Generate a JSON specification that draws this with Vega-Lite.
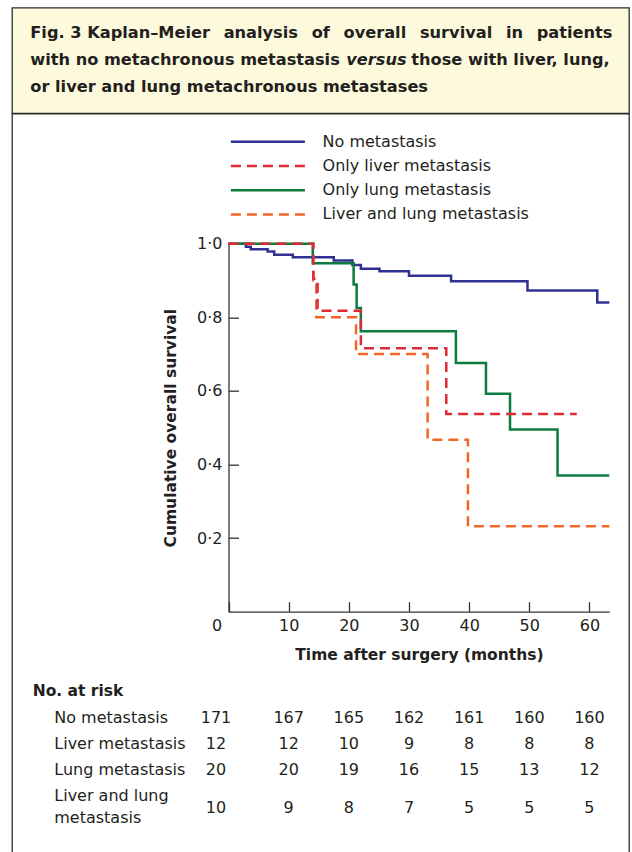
{
  "$schema": "https://vega.github.io/schema/vega-lite/v6.json",
  "background": "white",
  "padding": {"left": 11, "top": 6.7, "right": 4, "bottom": 0},
  "spacing": 0,
  "bounds": "flush",
  "config": {
    "view": {"stroke": null},
    "font": "DejaVu Sans",
    "text": {"font": "DejaVu Sans", "fontSize": 16, "color": "#231f20"},
    "axis": {
      "grid": false,
      "domainColor": "#333333",
      "domainWidth": 1.3,
      "tickColor": "#333333",
      "tickWidth": 1.3,
      "labelFont": "DejaVu Sans",
      "labelFontSize": 16,
      "labelColor": "#231f20",
      "titleFont": "DejaVu Sans",
      "titleFontSize": 15.5,
      "titleFontWeight": "bold",
      "titleColor": "#231f20"
    }
  },
  "vconcat": [
    {
      "width": 617,
      "height": 105.6,
      "view": {"fill": "#fdf9dc", "stroke": "#2b2b2b", "strokeWidth": 1.3},
      "data": {
        "values": [
          {"line": 1, "part": 1, "text": "Fig. 3 Kaplan–Meier \u2002analysis \u2002of \u2002overall \u2002survival \u2002in \u2002patients"},
          {"line": 2, "part": 1, "text": "with no metachronous metastasis"},
          {"line": 2, "part": 2, "text": "versus"},
          {"line": 2, "part": 3, "text": "those with liver, lung,"},
          {"line": 3, "part": 1, "text": "or liver and lung metachronous metastases"}
        ]
      },
      "encoding": {
        "y": {"field": "line", "type": "ordinal", "scale": {"type": "point", "range": [25.5, 79.5], "padding": 0}, "axis": null}
      },
      "layer": [
        {
          "transform": [{"filter": "datum.part === 1"}],
          "mark": {"type": "text", "align": "left", "baseline": "middle", "fontWeight": "bold", "fontSize": 16.2},
          "encoding": {"x": {"value": 18.3}, "text": {"field": "text"}}
        },
        {
          "transform": [{"filter": "datum.part === 2"}],
          "mark": {"type": "text", "align": "left", "baseline": "middle", "fontWeight": "bold", "fontStyle": "italic", "fontSize": 16.2, "dx": 316},
          "encoding": {"x": {"value": 18.3}, "text": {"field": "text"}}
        },
        {
          "transform": [{"filter": "datum.part === 3"}],
          "mark": {"type": "text", "align": "left", "baseline": "middle", "fontWeight": "bold", "fontSize": 16.2, "dx": 381},
          "encoding": {"x": {"value": 18.3}, "text": {"field": "text"}}
        }
      ]
    },
    {
      "width": 617,
      "height": 739.7,
      "view": {"fill": "white", "stroke": "#2b2b2b", "strokeWidth": 1.3},
      "resolve": {"scale": {"y": "independent"}},
      "layer": [
        {
          "data": {
            "values": [
              {"group": "No metastasis", "t": 0, "s": 1.0},
              {"group": "No metastasis", "t": 2.9, "s": 0.992},
              {"group": "No metastasis", "t": 3.7, "s": 0.985},
              {"group": "No metastasis", "t": 6.5, "s": 0.979},
              {"group": "No metastasis", "t": 7.6, "s": 0.970},
              {"group": "No metastasis", "t": 10.7, "s": 0.963},
              {"group": "No metastasis", "t": 17.5, "s": 0.954},
              {"group": "No metastasis", "t": 20.6, "s": 0.942},
              {"group": "No metastasis", "t": 22.0, "s": 0.932},
              {"group": "No metastasis", "t": 25.1, "s": 0.925},
              {"group": "No metastasis", "t": 30.0, "s": 0.913},
              {"group": "No metastasis", "t": 37.0, "s": 0.898},
              {"group": "No metastasis", "t": 49.7, "s": 0.873},
              {"group": "No metastasis", "t": 61.3, "s": 0.840},
              {"group": "No metastasis", "t": 63.3, "s": 0.840},
              {"group": "Liver and lung metastasis", "t": 0, "s": 1.0},
              {"group": "Liver and lung metastasis", "t": 14.1, "s": 0.9},
              {"group": "Liver and lung metastasis", "t": 14.6, "s": 0.8},
              {"group": "Liver and lung metastasis", "t": 21.2, "s": 0.7},
              {"group": "Liver and lung metastasis", "t": 33.1, "s": 0.467},
              {"group": "Liver and lung metastasis", "t": 39.8, "s": 0.232},
              {"group": "Liver and lung metastasis", "t": 63.3, "s": 0.232},
              {"group": "Only lung metastasis", "t": 0, "s": 1.0},
              {"group": "Only lung metastasis", "t": 14.0, "s": 0.947},
              {"group": "Only lung metastasis", "t": 20.8, "s": 0.889},
              {"group": "Only lung metastasis", "t": 21.3, "s": 0.825},
              {"group": "Only lung metastasis", "t": 22.0, "s": 0.762},
              {"group": "Only lung metastasis", "t": 37.8, "s": 0.676},
              {"group": "Only lung metastasis", "t": 42.8, "s": 0.592},
              {"group": "Only lung metastasis", "t": 46.8, "s": 0.495},
              {"group": "Only lung metastasis", "t": 54.7, "s": 0.370},
              {"group": "Only lung metastasis", "t": 63.3, "s": 0.370},
              {"group": "Only liver metastasis", "t": 0, "s": 1.0},
              {"group": "Only liver metastasis", "t": 14.1, "s": 0.905},
              {"group": "Only liver metastasis", "t": 14.8, "s": 0.818},
              {"group": "Only liver metastasis", "t": 22.0, "s": 0.716},
              {"group": "Only liver metastasis", "t": 36.2, "s": 0.537},
              {"group": "Only liver metastasis", "t": 57.9, "s": 0.537}
            ]
          },
          "mark": {"type": "line", "interpolate": "step-after", "strokeWidth": 2.5, "clip": false},
          "encoding": {
            "x": {
              "field": "t", "type": "quantitative",
              "scale": {"domain": [0, 63.3], "range": [216.5, 597.3], "nice": false, "zero": false},
              "axis": {
                "orient": "bottom", "offset": -241.7,
                "values": [0, 10, 20, 30, 40, 50, 60],
                "tickSize": -10, "labelPadding": 16, "labelFlush": false, "labelOverlap": false,
                "labelOffset": {"condition": {"test": "datum.value === 0", "value": -12}, "value": 0},
                "title": "Time after surgery (months)", "titlePadding": 14
              }
            },
            "y": {
              "field": "s", "type": "quantitative",
              "scale": {"domain": [0, 1], "range": [498, 130], "nice": false, "zero": false},
              "axis": {
                "orient": "left", "offset": -216.5,
                "values": [0.2, 0.4, 0.6, 0.8, 1.0],
                "tickSize": -10, "labelPadding": 16.5,
                "labelExpr": "replace(format(datum.value, '.1f'), '.', '·')",
                "title": "Cumulative overall survival", "titlePadding": 18.5
              }
            },
            "color": {
              "field": "group", "type": "nominal",
              "scale": {
                "domain": ["No metastasis", "Only liver metastasis", "Only lung metastasis", "Liver and lung metastasis"],
                "range": ["#2e3192", "#db2c37", "#0d7a3e", "#f26524"]
              },
              "legend": {
                "orient": "none", "direction": "vertical", "legendX": 244.4, "legendY": 122.6, "title": null, "padding": 0,
                "symbolType": "M-3.7,0L3.7,0", "symbolSize": 400, "symbolStrokeWidth": 2.5,
                "labelOffset": 43.2, "rowPadding": 4.2,
                "labelFont": "DejaVu Sans", "labelFontSize": 16, "labelColor": "#231f20", "labelLimit": 500
              }
            },
            "strokeDash": {
              "field": "group", "type": "nominal",
              "scale": {
                "domain": ["No metastasis", "Only liver metastasis", "Only lung metastasis", "Liver and lung metastasis"],
                "range": [[1, 0], [10, 6], [1, 0], [10, 6]]
              },
              "legend": {
                "orient": "none", "direction": "vertical", "legendX": 244.4, "legendY": 122.6, "title": null, "padding": 0,
                "symbolType": "M-3.7,0L3.7,0", "symbolSize": 400, "symbolStrokeWidth": 2.5,
                "labelOffset": 43.2, "rowPadding": 4.2,
                "labelFont": "DejaVu Sans", "labelFontSize": 16, "labelColor": "#231f20", "labelLimit": 500
              }
            }
          }
        },
        {
          "data": {
            "values": [
              {"row": "h", "kind": "title", "text": "No. at risk"},
              {"row": "r1", "kind": "label", "text": "No metastasis"},
              {"row": "r2", "kind": "label", "text": "Liver metastasis"},
              {"row": "r3", "kind": "label", "text": "Lung metastasis"},
              {"row": "r4", "kind": "label", "text": "Liver and lung\nmetastasis"},
              {"row": "r1", "kind": "n", "t": 0, "n": 171},
              {"row": "r1", "kind": "n", "t": 10, "n": 167},
              {"row": "r1", "kind": "n", "t": 20, "n": 165},
              {"row": "r1", "kind": "n", "t": 30, "n": 162},
              {"row": "r1", "kind": "n", "t": 40, "n": 161},
              {"row": "r1", "kind": "n", "t": 50, "n": 160},
              {"row": "r1", "kind": "n", "t": 60, "n": 160},
              {"row": "r2", "kind": "n", "t": 0, "n": 12},
              {"row": "r2", "kind": "n", "t": 10, "n": 12},
              {"row": "r2", "kind": "n", "t": 20, "n": 10},
              {"row": "r2", "kind": "n", "t": 30, "n": 9},
              {"row": "r2", "kind": "n", "t": 40, "n": 8},
              {"row": "r2", "kind": "n", "t": 50, "n": 8},
              {"row": "r2", "kind": "n", "t": 60, "n": 8},
              {"row": "r3", "kind": "n", "t": 0, "n": 20},
              {"row": "r3", "kind": "n", "t": 10, "n": 20},
              {"row": "r3", "kind": "n", "t": 20, "n": 19},
              {"row": "r3", "kind": "n", "t": 30, "n": 16},
              {"row": "r3", "kind": "n", "t": 40, "n": 15},
              {"row": "r3", "kind": "n", "t": 50, "n": 13},
              {"row": "r3", "kind": "n", "t": 60, "n": 12},
              {"row": "r4", "kind": "n", "t": 0, "n": 10},
              {"row": "r4", "kind": "n", "t": 10, "n": 9},
              {"row": "r4", "kind": "n", "t": 20, "n": 8},
              {"row": "r4", "kind": "n", "t": 30, "n": 7},
              {"row": "r4", "kind": "n", "t": 40, "n": 5},
              {"row": "r4", "kind": "n", "t": 50, "n": 5},
              {"row": "r4", "kind": "n", "t": 60, "n": 5}
            ]
          },
          "encoding": {
            "y": {"field": "row", "type": "ordinal", "scale": {"type": "point", "domain": ["h", "r1", "r2", "r3", "r4"], "range": [577.7, 682.7], "padding": 0}, "axis": null}
          },
          "layer": [
            {
              "transform": [{"filter": "datum.kind === 'title'"}],
              "mark": {"type": "text", "align": "left", "baseline": "middle", "fontWeight": "bold", "fontSize": 15.5},
              "encoding": {"x": {"value": 20.7}, "text": {"field": "text"}}
            },
            {
              "transform": [{"filter": "datum.kind === 'label'"}],
              "mark": {"type": "text", "align": "left", "baseline": "middle", "lineBreak": "\n", "lineHeight": 21.7},
              "encoding": {"x": {"value": 42.3}, "text": {"field": "text"}}
            },
            {
              "transform": [{"filter": "datum.kind === 'n' && datum.row !== 'r4' && datum.t > 0"}],
              "mark": {"type": "text", "align": "center", "baseline": "middle"},
              "encoding": {"x": {"field": "t", "type": "quantitative"}, "text": {"field": "n"}}
            },
            {
              "transform": [{"filter": "datum.kind === 'n' && datum.row !== 'r4' && datum.t === 0"}],
              "mark": {"type": "text", "align": "center", "baseline": "middle", "dx": -12.5},
              "encoding": {"x": {"field": "t", "type": "quantitative"}, "text": {"field": "n"}}
            },
            {
              "transform": [{"filter": "datum.kind === 'n' && datum.row === 'r4' && datum.t > 0"}],
              "mark": {"type": "text", "align": "center", "baseline": "middle", "dy": 11.7},
              "encoding": {"x": {"field": "t", "type": "quantitative"}, "text": {"field": "n"}}
            },
            {
              "transform": [{"filter": "datum.kind === 'n' && datum.row === 'r4' && datum.t === 0"}],
              "mark": {"type": "text", "align": "center", "baseline": "middle", "dx": -12.5, "dy": 11.7},
              "encoding": {"x": {"field": "t", "type": "quantitative"}, "text": {"field": "n"}}
            }
          ]
        }
      ]
    }
  ]
}
